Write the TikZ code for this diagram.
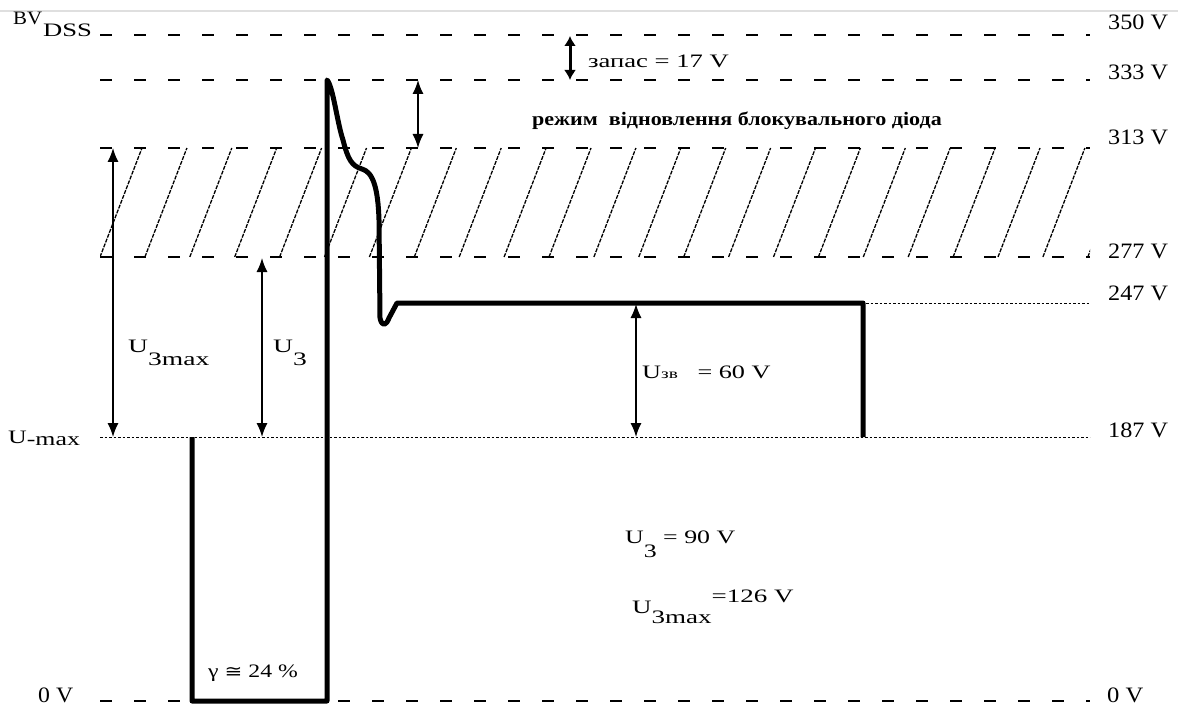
\documentclass[tikz,border=0pt]{standalone}
\usepackage{fontspec}
\setmainfont{Liberation Serif}
\newfontfamily\symfont{DejaVu Sans}
\usetikzlibrary{arrows.meta}
\newcommand\ws[2]{\scalebox{#1}[1]{#2}}
\newcommand\fsA{\fontsize{19}{21}\selectfont}
\newcommand\fsB{\fontsize{22}{24}\selectfont}
\begin{document}
\begin{tikzpicture}[x=1pt,y=-1pt,
  levelline/.style={line width=1.5pt, dash pattern=on 12pt off 22pt},
  dotline/.style={line width=1pt, dash pattern=on 2.5pt off 2pt},
  hatchline/.style={line width=1.3pt, dash pattern=on 4pt off 1.2pt},
  wave/.style={line width=5pt, line join=round},
  dimarrow/.style={line width=1.4pt, {Latex[length=14pt,width=11pt]}-{Latex[length=14pt,width=11pt]}},
  dimthick/.style={line width=3pt, {Latex[length=10pt,width=12pt]}-{Latex[length=10pt,width=12pt]}},
  lbl/.style={inner sep=0pt, anchor=base west}]
\useasboundingbox (0,0) rectangle (1178,706);
\draw[gray!25, line width=1.5pt] (0,11) -- (1178,11);
% hatched band
\begin{scope}
  \clip (100,148) rectangle (1090,257);
  \foreach \k in {0,...,22}
    \draw[hatchline] ({100+44.9*\k},257) -- ++(42,-109);
\end{scope}
% level lines
\draw[levelline] (100,35) -- (1090,35);
\draw[levelline] (100,80) -- (1090,80);
\draw[levelline] (100,148) -- (1090,148);
\draw[levelline] (100,257) -- (1090,257);
\draw[levelline] (100,701) -- (1090,701);
\draw[dotline] (866,303) -- (1090,303);
\draw[dotline] (100,437) -- (1090,437);
% waveform
\coordinate (w0) at (192,437);
\coordinate (w1) at (192,701);
\coordinate (w2) at (327,701);
\coordinate (pk) at (327,80);
\coordinate (sh) at (362,169);
\coordinate (dp) at (380,318);
\coordinate (w3) at (397,303);
\coordinate (w4) at (863,303);
\coordinate (w5) at (863,437);
\draw[wave] (w0) -- (w1) -- (w2) -- (pk)
  .. controls (333,86) and (337,122) .. (343,140)
  .. controls (348,160) and (352,166) .. (sh)
  .. controls (373,172) and (378,188) .. (379,220)
  -- (dp) .. controls (382,327) and (386,326) .. (389,318)
  -- (w3) -- (w4) -- (w5);
% dimension arrows
\coordinate (a1t) at (570,36); \coordinate (a1b) at (570,80);
\coordinate (a2t) at (418,80); \coordinate (a2b) at (418,148);
\coordinate (a3t) at (113,148); \coordinate (a3b) at (113,437);
\coordinate (a4t) at (262,258); \coordinate (a4b) at (262,437);
\coordinate (a5t) at (636,304); \coordinate (a5b) at (636,437);
\draw[dimthick] (a1t) -- (a1b);
\draw[dimarrow] (a2t) -- (a2b);
\draw[dimarrow] (a3t) -- (a3b);
\draw[dimarrow] (a4t) -- (a4b);
\draw[dimarrow] (a5t) -- (a5b);
% left labels
\node[lbl] (bv) at (13,25) {\fsA\ws{1.1}{BV}};
\node[lbl] (dss) at (43,37) {\fsA\ws{1.4}{DSS}};
\node[lbl] (umax) at (8,443) {\fsA\ws{1.36}{U\raisebox{-2pt}{-max}}};
\node[lbl] (zl) at (38,702) {\fsB\ws{1.08}{0 V}};
% right labels
\node[lbl] (r350) at (1108,30) {\fsB\ws{1.1}{350 V}};
\node[lbl] (r333) at (1108,80) {\fsB\ws{1.1}{333 V}};
\node[lbl] (r313) at (1108,145) {\fsB\ws{1.1}{313 V}};
\node[lbl] (r277) at (1108,258) {\fsB\ws{1.1}{277 V}};
\node[lbl] (r247) at (1108,300) {\fsB\ws{1.1}{247 V}};
\node[lbl] (r187) at (1108,437) {\fsB\ws{1.1}{187 V}};
\node[lbl] (r0) at (1107,702) {\fsB\ws{1.12}{0 V}};
% annotations
\node[lbl] (zap) at (588,68) {\fsA\ws{1.4}{запас = 17 V}};
\node[inner sep=0pt, anchor=base] (mode) at (737,126) {\fontsize{19}{21}\selectfont\bfseries\ws{1.16}{режим\ \ відновлення блокувального діода}};
\node[lbl] (u3maxl) at (128,352) {\fsA\ws{1.45}{U\raisebox{-13pt}{3max}}};
\node[lbl] (u3l) at (273,352) {\fsA\ws{1.45}{U\raisebox{-13pt}{3}}};
\node[lbl] (uzv) at (642,378) {\fsA\ws{1.38}{U{\fontsize{14}{16}\selectfont зв}\ \ \ = 60 V}};
\node[lbl] (u3v) at (625,543) {\fsA\ws{1.36}{U\raisebox{-14pt}{3} = 90 V}};
\node[lbl] (u3mv) at (632,613) {\fsA\ws{1.42}{U\raisebox{-10pt}{3max}\raisebox{11pt}{=126 V}}};
\node[lbl] (gam) at (208,677) {\fsA\ws{1.25}{γ {\symfont\fontsize{17}{19}\selectfont ≅} 24 \%}};
\end{tikzpicture}
\end{document}
